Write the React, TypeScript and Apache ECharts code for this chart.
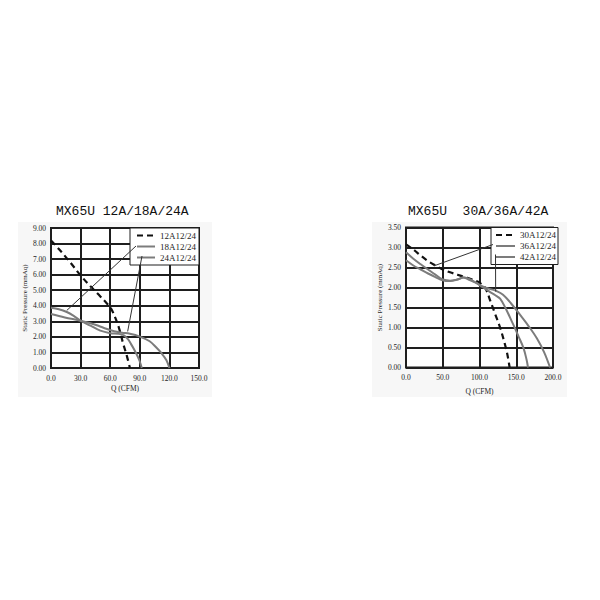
import React, { useEffect, useRef } from "react";
import * as echarts from "echarts";

// ---------- Left panel: MX65U 12A/18A/24A ----------
const leftTitle = "MX65U 12A/18A/24A";
const leftXTicks = [0, 30, 60, 90, 120, 150];
const leftYMax = 9;
const names12 = ["12A12/24", "18A12/24", "24A12/24"];

const q12A = [0, 10, 20, 30, 40, 50, 56, 61, 65, 69, 73, 77, 80];
const p12A = [8.2, 7.5, 6.75, 5.95, 5.25, 4.6, 4.2, 3.8, 3.25, 2.55, 1.6, 0.75, 0];

const q18A = [0, 8, 16, 23, 30, 40, 50, 60, 68, 74, 78, 81, 84, 88, 90, 92];
const p18A = [3.88, 3.78, 3.6, 3.35, 3.04, 2.72, 2.4, 2.24, 2.2, 2.1, 1.85, 1.55, 1.22, 0.72, 0.42, 0];

const q24A = [0, 14, 30, 40, 48, 56, 64, 72, 80, 90, 100, 107, 112, 117, 120];
const p24A = [3.47, 3.25, 3.04, 2.88, 2.72, 2.52, 2.36, 2.27, 2.2, 2.02, 1.72, 1.3, 0.95, 0.5, 0];

// ---------- Right panel: MX65U 30A/36A/42A ----------
const rightTitle = "MX65U  30A/36A/42A";
const rightXTicks = [0, 50, 100, 150, 200];
const rightYMax = 3.5;
const names30 = ["30A12/24", "36A12/24", "42A12/24"];

const q30A = [0, 10, 20, 30, 40, 50, 60, 70, 80, 90, 100, 108, 115, 121, 128, 134, 138, 141];
const p30A = [3.08, 2.95, 2.8, 2.66, 2.55, 2.45, 2.38, 2.32, 2.26, 2.2, 2.12, 1.98, 1.65, 1.35, 1.0, 0.62, 0.32, 0];

const q36A = [0, 10, 20, 30, 40, 50, 60, 70, 78, 85, 95, 105, 115, 122, 128, 135, 146, 153, 160, 164, 166];
const p36A = [2.88, 2.72, 2.58, 2.45, 2.32, 2.2, 2.17, 2.2, 2.25, 2.22, 2.12, 2.0, 1.88, 1.8, 1.72, 1.5, 1.07, 0.78, 0.48, 0.2, 0];

const q42A = [0, 10, 20, 30, 40, 50, 60, 70, 78, 85, 95, 105, 115, 122, 132, 143, 155, 167, 178, 188, 196];
const p42A = [2.68, 2.55, 2.45, 2.35, 2.26, 2.18, 2.16, 2.2, 2.25, 2.2, 2.12, 2.02, 1.96, 1.92, 1.82, 1.6, 1.32, 1.03, 0.73, 0.38, 0];

const zip = (q: number[], p: number[]) => q.map((x, i) => [x, p[i]]);

const SERIF = "Liberation Serif";
const MONO = "Liberation Mono";
const INK = "#1e1e1e";
const GRAYLINE = "#7c7c7c";

const axisLabel = (digits: number, margin: number) => ({
  fontSize: 7.5,
  fontFamily: SERIF,
  color: INK,
  margin,
  formatter: (v: number) => v.toFixed(digits),
});

const splitLine = { show: true, lineStyle: { color: INK, width: 2 } };

function makeSeries(name: string, data: number[][], idx: number, dashed: boolean) {
  return {
    name,
    type: "line",
    xAxisIndex: idx,
    yAxisIndex: idx,
    data,
    smooth: 0.35,
    symbol: "none",
    lineStyle: dashed
      ? { color: "#111", width: 2.2, type: [6, 4] }
      : { color: GRAYLINE, width: 2 },
    itemStyle: { color: dashed ? "#111" : GRAYLINE },
    z: 3,
  };
}

const legendBase = {
  orient: "vertical",
  itemHeight: 8,
  itemGap: 2,
  backgroundColor: "#ffffff",
  borderColor: INK,
  borderWidth: 1,
  selectedMode: false,
  itemStyle: { opacity: 0, borderWidth: 0 },
  textStyle: { fontFamily: SERIF, fontSize: 9, color: INK },
  z: 6,
};

export default function App() {
  const ref = useRef<HTMLDivElement>(null);

  useEffect(() => {
    if (!ref.current) return;
    const chart = echarts.init(ref.current, null, { renderer: "svg" });
    const titleStyle = { fontFamily: MONO, fontSize: 13, fontWeight: "normal", color: "#111" };
    const option: any = {
      animation: false,
      backgroundColor: "#ffffff",
      title: [
        { text: leftTitle, left: 56, top: 205, padding: 0, textStyle: titleStyle },
        { text: rightTitle, left: 408, top: 205, padding: 0, textStyle: titleStyle },
      ],
      grid: [
        {
          left: 51, top: 228, width: 148, height: 140,
          show: true, backgroundColor: "#ffffff", borderColor: INK, borderWidth: 2,
        },
        {
          left: 406, top: 227.5, width: 147, height: 140,
          show: true, backgroundColor: "#ffffff", borderColor: INK, borderWidth: 2,
        },
      ],
      xAxis: [
        {
          gridIndex: 0,
          type: "value",
          min: leftXTicks[0],
          max: leftXTicks[leftXTicks.length - 1],
          interval: leftXTicks[1] - leftXTicks[0],
          axisLine: { show: false },
          axisTick: { show: false },
          axisLabel: axisLabel(1, 6),
          splitLine,
          name: "Q (CFM)",
          nameLocation: "middle",
          nameGap: 16,
          nameTextStyle: { fontFamily: SERIF, fontSize: 7.5, color: INK, verticalAlign: "top" },
        },
        {
          gridIndex: 1,
          type: "value",
          min: rightXTicks[0],
          max: rightXTicks[rightXTicks.length - 1],
          interval: rightXTicks[1] - rightXTicks[0],
          axisLine: { show: false },
          axisTick: { show: false },
          axisLabel: axisLabel(1, 6),
          splitLine,
          name: "Q (CFM)",
          nameLocation: "middle",
          nameGap: 20,
          nameTextStyle: { fontFamily: SERIF, fontSize: 7.5, color: INK, verticalAlign: "top" },
        },
      ],
      yAxis: [
        {
          gridIndex: 0,
          type: "value",
          min: 0,
          max: leftYMax,
          interval: 1,
          axisLine: { show: false },
          axisTick: { show: false },
          axisLabel: axisLabel(2, 5),
          splitLine,
          name: "Static Pressure (mmAq)",
          nameLocation: "middle",
          nameGap: 23,
          nameTextStyle: { fontFamily: SERIF, fontSize: 7, color: INK },
        },
        {
          gridIndex: 1,
          type: "value",
          min: 0,
          max: rightYMax,
          interval: 0.5,
          axisLine: { show: false },
          axisTick: { show: false },
          axisLabel: axisLabel(2, 5),
          splitLine,
          name: "Static Pressure (mmAq)",
          nameLocation: "middle",
          nameGap: 23,
          nameTextStyle: { fontFamily: SERIF, fontSize: 7, color: INK },
        },
      ],
      legend: [
        { ...legendBase, data: names12, left: 130, top: 228, itemWidth: 18, padding: [3, 3, 3, 6] },
        { ...legendBase, data: names30, left: 491, top: 227.5, itemWidth: 19, padding: [3, 2, 3, 4] },
      ],
      series: [
        makeSeries(names12[0], zip(q12A, p12A), 0, true),
        makeSeries(names12[1], zip(q18A, p18A), 0, false),
        makeSeries(names12[2], zip(q24A, p24A), 0, false),
        makeSeries(names30[0], zip(q30A, p30A), 1, true),
        makeSeries(names30[1], zip(q36A, p36A), 1, false),
        makeSeries(names30[2], zip(q42A, p42A), 1, false),
      ],
    };
    chart.setOption(option);

    const px = (g: number, pt: number[]) => chart.convertToPixel({ gridIndex: g } as any, pt) as number[];
    const leader = (from: number[], to: number[]) => ({
      type: "line",
      shape: { x1: from[0], y1: from[1], x2: to[0], y2: to[1] },
      style: { stroke: "#333", lineWidth: 1 },
      z: 10,
      silent: true,
    });
    const a18 = px(0, [16, 3.7]);
    const a24 = px(0, [77.7, 2.35]);
    const a36 = px(1, [38, 2.54]);
    const a42 = px(1, [122, 1.9]);

    chart.setOption({
      graphic: [
        {
          type: "rect",
          shape: { x: 18, y: 222, width: 194, height: 175 },
          style: { fill: "#f7f7f7" },
          z: -10,
          silent: true,
        },
        {
          type: "rect",
          shape: { x: 372, y: 222, width: 195, height: 175 },
          style: { fill: "#f7f7f7" },
          z: -10,
          silent: true,
        },
        leader([136, 246], a18),
        leader([142, 256], a24),
        leader([493, 244.5], a36),
        leader([495.5, 254.5], a42),
      ],
    });

    return () => chart.dispose();
  }, []);

  return (
    <div
      ref={ref}
      style={{ position: "absolute", left: 0, top: 0, width: 600, height: 600 }}
    />
  );
}
